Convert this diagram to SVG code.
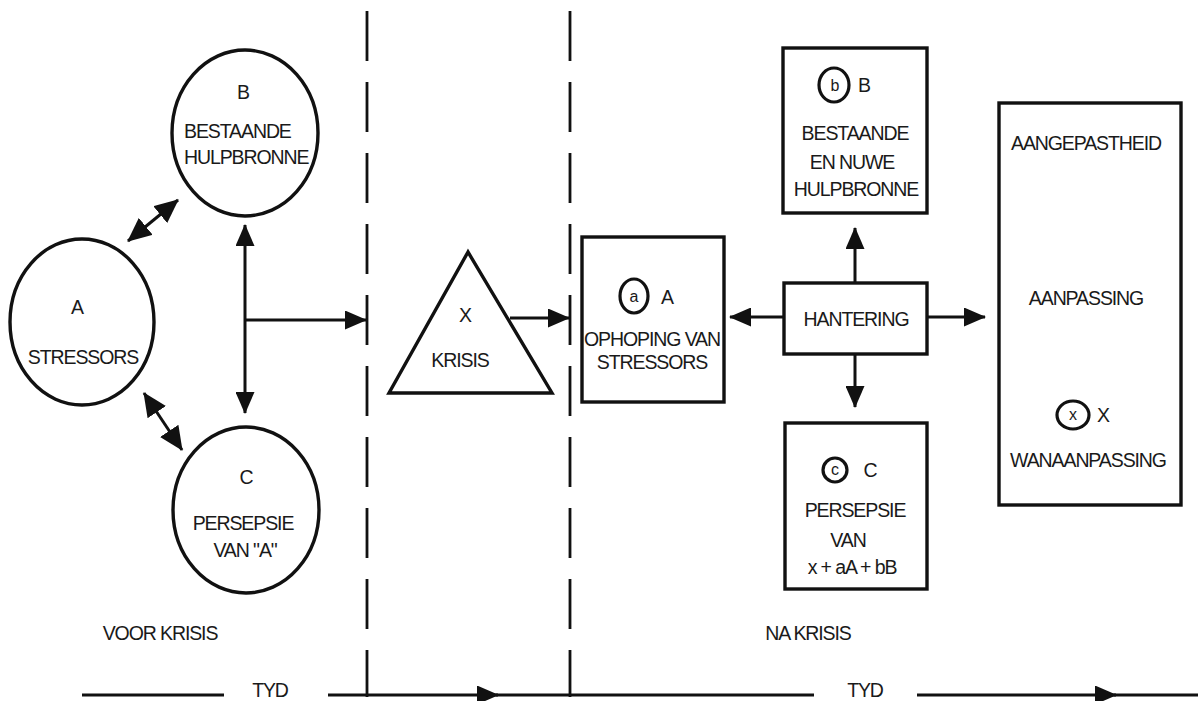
<svg xmlns="http://www.w3.org/2000/svg" width="1198" height="701" viewBox="0 0 1198 701">
<style>
  .shape { fill: #fff; stroke: #111; stroke-width: 3.4; }
  .small { fill: none; stroke: #111; stroke-width: 3.2; }
  .t { font-family: "Liberation Sans", Arial, sans-serif; font-size: 19.5px; letter-spacing: -1.1px; fill: #1a1a1a; text-anchor: middle; }
  .s { font-family: "Liberation Sans", Arial, sans-serif; font-size: 16px; fill: #1a1a1a; text-anchor: middle; }
  .ln { fill: none; stroke: #111; stroke-width: 3; }
  .dash { fill: none; stroke: #111; stroke-width: 2.8; stroke-dasharray: 50 21; }
  .time { fill: none; stroke: #111; stroke-width: 3.2; }
</style>
<defs>
  <marker id="ah" markerUnits="userSpaceOnUse" markerWidth="22" markerHeight="19" refX="21" refY="9.5" orient="auto-start-reverse">
    <path d="M0,0 L22,9.5 L0,19 z" fill="#111"/>
  </marker>
  <marker id="ahd" markerUnits="userSpaceOnUse" markerWidth="24" markerHeight="22" refX="23" refY="11" orient="auto-start-reverse">
    <path d="M0,0 L24,11 L0,22 z" fill="#111"/>
  </marker>
  <marker id="ahs" markerUnits="userSpaceOnUse" markerWidth="22" markerHeight="19" refX="21" refY="9.5" orient="auto-start-reverse">
    <path d="M0,0 L22,9.5 L0,19 z" fill="#111"/>
  </marker>
</defs>
<rect width="1198" height="701" fill="#fff"/>

<g id="dividers">
  <line class="dash" x1="367" y1="11" x2="367" y2="697"/>
  <line class="dash" x1="570" y1="11" x2="570" y2="697"/>
</g>

<g id="connectors">
  <line class="ln" x1="128" y1="241" x2="178" y2="200" stroke-width="3.6" marker-start="url(#ahd)" marker-end="url(#ahd)"/>
  <line class="ln" x1="144" y1="393" x2="182" y2="450" stroke-width="3.6" marker-start="url(#ahd)" marker-end="url(#ahd)"/>
  <line class="ln" x1="245" y1="225" x2="245" y2="413" marker-start="url(#ah)" marker-end="url(#ah)"/>
  <line class="ln" x1="245" y1="320" x2="366" y2="320" marker-end="url(#ah)"/>
  <line class="ln" x1="510" y1="318" x2="569" y2="318" marker-end="url(#ah)"/>
  <line class="ln" x1="784" y1="317" x2="730" y2="317" marker-end="url(#ah)"/>
  <line class="ln" x1="927" y1="317" x2="985" y2="317" marker-end="url(#ah)"/>
  <line class="ln" x1="855" y1="283" x2="855" y2="228" marker-end="url(#ah)"/>
  <line class="ln" x1="855" y1="354" x2="855" y2="407" marker-end="url(#ah)"/>
  <line class="ln" x1="1090" y1="265" x2="1090" y2="165" marker-end="url(#ah)"/>
  <line class="ln" x1="1090" y1="328" x2="1090" y2="395" marker-end="url(#ah)"/>
</g>

<g id="nodeA">
  <ellipse class="shape" cx="82" cy="322" rx="72" ry="83"/>
  <text class="t" x="77" y="314">A</text>
  <text class="t" x="83" y="364">STRESSORS</text>
</g>

<g id="nodeB">
  <ellipse class="shape" cx="245" cy="133" rx="73" ry="83"/>
  <text class="t" x="243" y="99">B</text>
  <text class="t" x="184" y="138" style="text-anchor:start">BESTAANDE</text>
  <text class="t" x="184" y="164" style="text-anchor:start">HULPBRONNE</text>
</g>

<g id="nodeC">
  <ellipse class="shape" cx="246" cy="510" rx="73" ry="83"/>
  <text class="t" x="246" y="484">C</text>
  <text class="t" x="243" y="530">PERSEPSIE</text>
  <text class="t" x="245" y="557">VAN "A"</text>
</g>

<g id="nodeX">
  <polygon class="shape" points="468,252 389,393 552,393" stroke-linejoin="miter"/>
  <text class="t" x="465" y="322">X</text>
  <text class="t" x="460" y="367">KRISIS</text>
</g>

<g id="nodeAa">
  <rect class="shape" x="582" y="237" width="142" height="165"/>
  <ellipse class="small" cx="634" cy="296" rx="14" ry="17"/>
  <text class="s" x="634" y="302">a</text>
  <text class="t" x="667" y="304">A</text>
  <text class="t" x="652" y="346">OPHOPING VAN</text>
  <text class="t" x="652" y="369">STRESSORS</text>
</g>

<g id="nodeHantering">
  <rect class="shape" x="784" y="283" width="143" height="71"/>
  <text class="t" x="856" y="326">HANTERING</text>
</g>

<g id="nodeBb">
  <rect class="shape" x="783" y="48" width="144" height="165"/>
  <ellipse class="small" cx="834" cy="85" rx="15" ry="17"/>
  <text class="s" x="835" y="91">b</text>
  <text class="t" x="864" y="92">B</text>
  <text class="t" x="855" y="140">BESTAANDE</text>
  <text class="t" x="852" y="169">EN NUWE</text>
  <text class="t" x="856" y="196">HULPBRONNE</text>
</g>

<g id="nodeCc">
  <rect class="shape" x="785" y="423" width="142" height="166"/>
  <circle class="small" cx="835" cy="470" r="12"/>
  <text class="s" x="835" y="475">c</text>
  <text class="t" x="870" y="477">C</text>
  <text class="t" x="855" y="517">PERSEPSIE</text>
  <text class="t" x="848" y="547">VAN</text>
  <text class="t" x="852" y="574">x + aA + bB</text>
</g>

<g id="nodeAanpassing">
  <rect class="shape" x="999" y="103" width="182" height="402"/>
  <text class="t" x="1086" y="150">AANGEPASTHEID</text>
  <text class="t" x="1086" y="305">AANPASSING</text>
  <ellipse class="small" cx="1073" cy="415" rx="16" ry="14"/>
  <text class="s" x="1073" y="420">x</text>
  <text class="t" x="1103" y="422">X</text>
  <text class="t" x="1088" y="467">WANAANPASSING</text>
</g>

<g id="labels">
  <text class="t" x="160" y="640">VOOR KRISIS</text>
  <text class="t" x="808" y="640">NA KRISIS</text>
  <text class="t" x="270" y="697">TYD</text>
  <text class="t" x="865" y="697">TYD</text>
</g>

<g id="timeline">
  <line class="time" x1="82" y1="695" x2="224" y2="695"/>
  <line class="time" x1="328" y1="695" x2="498" y2="695" marker-end="url(#ahs)"/>
  <line class="time" x1="496" y1="695" x2="814" y2="695"/>
  <line class="time" x1="917" y1="695" x2="1116" y2="695" marker-end="url(#ahs)"/>
  <line class="time" x1="1114" y1="695" x2="1198" y2="695"/>
</g>
</svg>
